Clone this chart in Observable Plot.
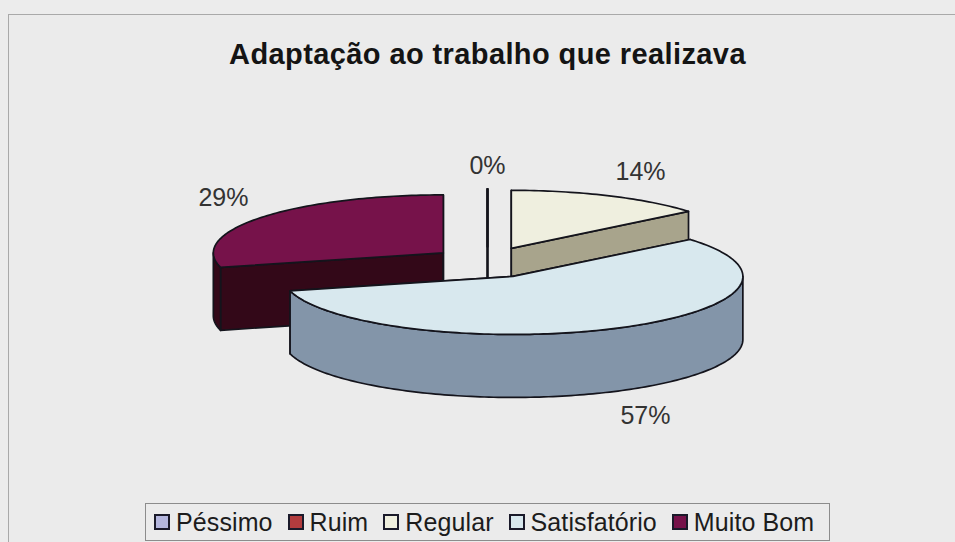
<!DOCTYPE html>
<html lang="pt">
<head>
<meta charset="utf-8">
<title>Adaptação ao trabalho que realizava</title>
<script src="https://cdn.jsdelivr.net/npm/d3@7"></script>
<script src="https://cdn.jsdelivr.net/npm/@observablehq/plot@0.6"></script>
<style>
  html, body { margin: 0; padding: 0; background: #ececec; }
  #page { position: relative; width: 955px; height: 542px; overflow: hidden; font-family: "Liberation Sans", Arial, sans-serif; }
  #frame { position: absolute; left: 8px; top: 14px; right: -2px; bottom: -2px; border: 1px solid #a9a9a9; background: #ebebeb; }
  #heading { position: absolute; left: 0; width: 975px; top: 37px; text-align: center; font-size: 29px; font-weight: bold; color: #141414; line-height: 34px; letter-spacing: 0.4px; white-space: nowrap; }
  #chart { position: absolute; left: 0; top: 90px; }
  #chart svg { display: block; }
  #key { position: absolute; left: 145px; top: 503px; width: 685px; height: 38px; box-sizing: border-box; border: 1px solid #8c8c8c; display: flex; align-items: center; padding-left: 8px; color: #1c1c1c; font-size: 25px; letter-spacing: 0.1px; white-space: nowrap; }
  #key span.item { display: flex; align-items: center; flex: none; margin-right: 15px; }
  #key i { display: block; width: 12px; height: 12px; border: 2px solid #1a1a2a; margin-right: 6px; }
</style>
</head>
<body>
<div id="page">
  <div id="frame"></div>
  <div id="heading">Adaptação ao trabalho que realizava</div>
  <div id="chart"></div>
  <div id="key"></div>
</div>
<script>
const categories = ["Péssimo", "Ruim", "Regular", "Satisfatório", "Muito Bom"];
const shares = [0, 0, 14, 57, 29];
const topColors = ["#b4b6de", "#b23c3e", "#efefdf", "#d8e8ee", "#76124a"];
const sideColors = ["#5a5b6f", "#591e1f", "#a8a48c", "#8395a9", "#330818"];

// Tilted-disc proportions, all in units of the disc radius.
const explodeX = 0.243, explodeY = 0.27, thickness = 1.086;
const labelReachX = {"Péssimo": 1.3, "Ruim": 1.3, "Regular": 1.32, "Satisfatório": 1.27, "Muito Bom": 1.21};
const labelReachY = {"Péssimo": 1.4, "Ruim": 1.4, "Regular": 1.45, "Satisfatório": 1.49, "Muito Bom": 1.55};

const total = d3.sum(shares);
const tau = 2 * Math.PI;
let running = 0;
const slices = categories.map((name, i) => {
  const start = running / total * tau;
  running += shares[i];
  const end = running / total * tau;
  const mid = (start + end) / 2;
  return {name, share: shares[i], start, end, mid,
          ax: explodeX * Math.sin(mid), ay: explodeY * Math.cos(mid), i};
});

// Points along the rim of a slice, on its upper or lower edge.
function rim(s, from, to, drop = 0) {
  const steps = Math.max(1, Math.ceil(Math.abs(to - from) / 0.02));
  return d3.range(steps + 1).map(k => {
    const t = from + (to - from) * k / steps;
    return {x: s.ax + Math.sin(t), y: s.ay + Math.cos(t) - drop};
  });
}

function polygon(id, tone, pts) {
  return [...pts, pts[0]].map(p => ({...p, face: id, tone}));
}

// Faces are listed back to front so nearer slices cover farther ones.
const faces = [];
[...slices].sort((a, b) => b.ay - a.ay).forEach(s => {
  const side = s.name + " lado", top = s.name + " topo";
  const apex = {x: s.ax, y: s.ay}, apexLow = {x: s.ax, y: s.ay - thickness};
  for (const [key, t] of [["a", s.start], ["b", s.end]]) {
    const p = {x: s.ax + Math.sin(t), y: s.ay + Math.cos(t)};
    faces.push(...polygon(s.name + key, side, [apex, p, {x: p.x, y: p.y - thickness}, apexLow]));
  }
  const from = Math.max(s.start, Math.PI / 2), to = Math.min(s.end, 1.5 * Math.PI);
  if (to > from) {
    faces.push(...polygon(s.name + " parede", side,
      [...rim(s, from, to), ...rim(s, to, from, thickness)]));
  }
  faces.push(...polygon(s.name + " face", top, [apex, ...rim(s, s.start, s.end)]));
});

// The two empty categories coincide, so only one percentage is written there.
const labelled = slices.filter(s => s.share > 0 || s.i === 0);

const radiusX = 230, radiusY = 58, centerX = 487, centerY = 172;
const chart = Plot.plot({
  width: 955,
  height: 400,
  margin: 0,
  style: {background: "transparent"},
  x: {domain: [-1, 1], range: [centerX - radiusX, centerX + radiusX], axis: null},
  y: {domain: [-1, 1], range: [centerY + radiusY, centerY - radiusY], axis: null},
  color: {
    domain: categories.flatMap(c => [c + " lado", c + " topo"]),
    range: categories.flatMap((c, i) => [sideColors[i], topColors[i]])
  },
  marks: [
    Plot.line(faces, {
      x: "x", y: "y", z: "face", fill: "tone",
      stroke: "#14141c", strokeWidth: 1.7, strokeLinejoin: "round"
    }),
    Plot.text(labelled, {
      x: s => s.ax + labelReachX[s.name] * Math.sin(s.mid),
      y: s => s.ay + labelReachY[s.name] * Math.cos(s.mid) - (Math.cos(s.mid) < 0 ? thickness : 0),
      text: s => s.share + "%",
      fontSize: 25, fontFamily: "Liberation Sans, Arial, sans-serif", fill: "#333333"
    })
  ]
});
document.getElementById("chart").append(chart);

const key = d3.select("#key");
categories.forEach((c, i) => {
  const item = key.append("span").attr("class", "item");
  item.append("i").style("background", topColors[i]);
  item.append("span").text(c);
});
</script>
</body>
</html>
